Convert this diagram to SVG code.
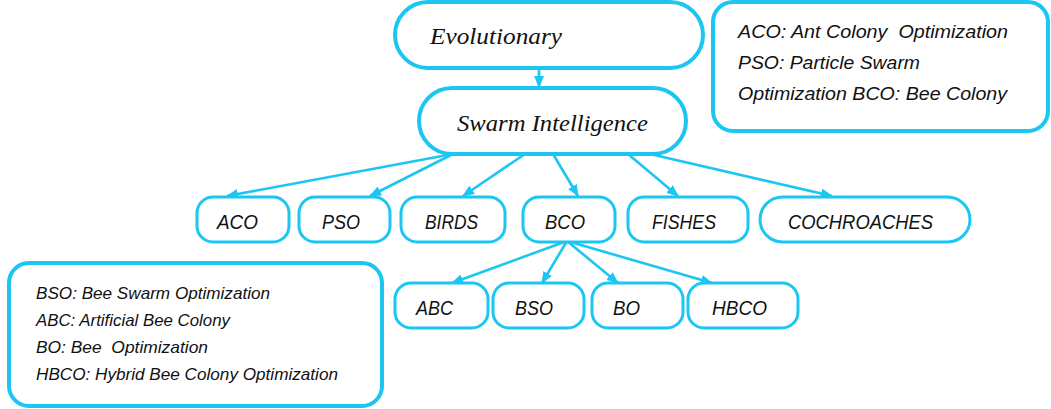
<svg xmlns="http://www.w3.org/2000/svg" width="1051" height="409" viewBox="0 0 1051 409">
  <style>
    .node { fill: #ffffff; stroke: #1cc6f2; stroke-width: 3; }
    .big { stroke-width: 4; }
    .legend { fill: #ffffff; stroke: #1cc6f2; stroke-width: 4; }
    .edge { stroke: #1cc6f2; stroke-width: 2.6; fill: none; marker-end: url(#arrow); }
    .serif { font-family: "Liberation Serif", "Times New Roman", serif; font-style: italic; font-size: 23px; fill: #111111; }
    .label { font-family: "Liberation Sans", Arial, sans-serif; font-style: italic; font-size: 21px; fill: #111111; }
    .note { font-family: "Liberation Sans", Arial, sans-serif; font-style: italic; font-size: 18.5px; fill: #111111; white-space: pre; }
    .note-sm { font-family: "Liberation Sans", Arial, sans-serif; font-style: italic; font-size: 16.5px; fill: #111111; white-space: pre; }
  </style>
  <defs>
    <marker id="arrow" markerWidth="12" markerHeight="10" refX="11" refY="5" orient="auto" markerUnits="userSpaceOnUse">
      <path d="M0,0 L12,5 L0,10 Z" fill="#1cc6f2"/>
    </marker>
  </defs>

  <!-- connectors -->
  <g id="connectors">
    <line class="edge" x1="539" y1="68" x2="539" y2="87"/>
    <line class="edge" x1="453" y1="154" x2="227" y2="196"/>
    <line class="edge" x1="453" y1="154" x2="370" y2="196"/>
    <line class="edge" x1="525" y1="154" x2="463" y2="196"/>
    <line class="edge" x1="553" y1="154" x2="578" y2="196"/>
    <line class="edge" x1="628" y1="154" x2="678" y2="196"/>
    <line class="edge" x1="650" y1="154" x2="832" y2="196"/>
    <line class="edge" x1="567" y1="241" x2="452" y2="283"/>
    <line class="edge" x1="567" y1="241" x2="542" y2="283"/>
    <line class="edge" x1="567" y1="241" x2="618" y2="283"/>
    <line class="edge" x1="567" y1="241" x2="712" y2="283"/>
  </g>

  <!-- top level -->
  <g id="evolutionary">
    <rect class="node big" x="395" y="2" width="308" height="66" rx="33"/>
    <text class="serif" x="430" y="44" textLength="132" lengthAdjust="spacingAndGlyphs">Evolutionary</text>
  </g>
  <g id="swarm-intelligence">
    <rect class="node big" x="419" y="88" width="267" height="66" rx="33"/>
    <text class="serif" x="457" y="131" textLength="191" lengthAdjust="spacingAndGlyphs">Swarm Intelligence</text>
  </g>

  <!-- swarm families -->
  <g id="aco">
    <rect class="node" x="197" y="197" width="92" height="45" rx="16"/>
    <text class="label" x="217" y="229" textLength="41" lengthAdjust="spacingAndGlyphs">ACO</text>
  </g>
  <g id="pso">
    <rect class="node" x="299" y="197" width="91" height="45" rx="16"/>
    <text class="label" x="322" y="229" textLength="38" lengthAdjust="spacingAndGlyphs">PSO</text>
  </g>
  <g id="birds">
    <rect class="node" x="401" y="197" width="104" height="45" rx="16"/>
    <text class="label" x="425" y="229" textLength="53" lengthAdjust="spacingAndGlyphs">BIRDS</text>
  </g>
  <g id="bco">
    <rect class="node" x="523" y="197" width="92" height="45" rx="16"/>
    <text class="label" x="545" y="229" textLength="40" lengthAdjust="spacingAndGlyphs">BCO</text>
  </g>
  <g id="fishes">
    <rect class="node" x="628" y="197" width="120" height="45" rx="16"/>
    <text class="label" x="652" y="229" textLength="64" lengthAdjust="spacingAndGlyphs">FISHES</text>
  </g>
  <g id="cochroaches">
    <rect class="node" x="760" y="197" width="210" height="45" rx="22.5"/>
    <text class="label" x="788" y="229" textLength="145" lengthAdjust="spacingAndGlyphs">COCHROACHES</text>
  </g>

  <!-- bee colony variants -->
  <g id="abc">
    <rect class="node" x="395" y="283" width="93" height="45" rx="16"/>
    <text class="label" x="416" y="315" textLength="37" lengthAdjust="spacingAndGlyphs">ABC</text>
  </g>
  <g id="bso">
    <rect class="node" x="493" y="283" width="91" height="45" rx="16"/>
    <text class="label" x="515" y="315" textLength="38" lengthAdjust="spacingAndGlyphs">BSO</text>
  </g>
  <g id="bo">
    <rect class="node" x="592" y="283" width="91" height="45" rx="16"/>
    <text class="label" x="613" y="315" textLength="27" lengthAdjust="spacingAndGlyphs">BO</text>
  </g>
  <g id="hbco">
    <rect class="node" x="688" y="283" width="110" height="45" rx="16"/>
    <text class="label" x="712" y="315" textLength="55" lengthAdjust="spacingAndGlyphs">HBCO</text>
  </g>

  <!-- abbreviation keys -->
  <g id="legend-swarm">
    <rect class="legend" x="713" y="2" width="335" height="129" rx="20"/>
    <text class="note" x="738" y="38" textLength="270" lengthAdjust="spacingAndGlyphs">ACO: Ant Colony  Optimization</text>
    <text class="note" x="738" y="69" textLength="182" lengthAdjust="spacingAndGlyphs">PSO: Particle Swarm</text>
    <text class="note" x="738" y="100" textLength="269" lengthAdjust="spacingAndGlyphs">Optimization BCO: Bee Colony</text>
  </g>
  <g id="legend-bee">
    <rect class="legend" x="9" y="263" width="373" height="143" rx="20"/>
    <text class="note-sm" x="36" y="299" textLength="234" lengthAdjust="spacingAndGlyphs">BSO: Bee Swarm Optimization</text>
    <text class="note-sm" x="36" y="326" textLength="194" lengthAdjust="spacingAndGlyphs">ABC: Artificial Bee Colony</text>
    <text class="note-sm" x="36" y="353" textLength="172" lengthAdjust="spacingAndGlyphs">BO: Bee  Optimization</text>
    <text class="note-sm" x="36" y="380" textLength="302" lengthAdjust="spacingAndGlyphs">HBCO: Hybrid Bee Colony Optimization</text>
  </g>
</svg>
